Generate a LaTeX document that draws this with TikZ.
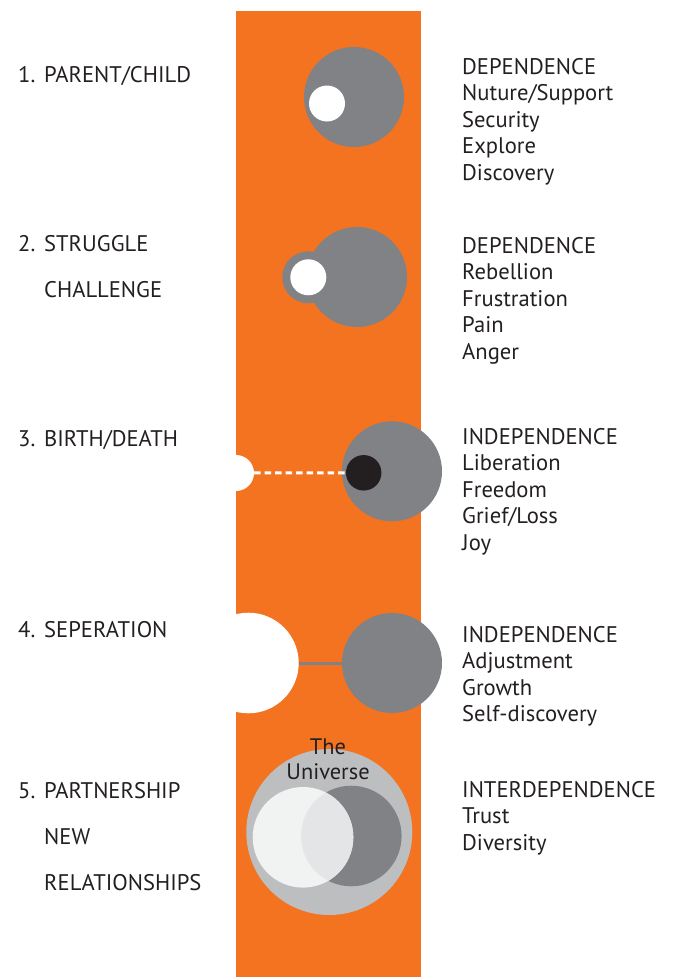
\documentclass[tikz,border=0pt]{standalone}
\usepackage{fontspec}
\setmainfont{PT Sans}
\usepackage{tikz}
\definecolor{band}{HTML}{F37321}
\definecolor{discgray}{HTML}{808285}
\definecolor{palegray}{HTML}{BCBEC0}
\definecolor{softwhite}{HTML}{F1F2F2}
\definecolor{mixgray}{HTML}{E4E5E6}
\definecolor{ink}{HTML}{231F20}
\tikzstyle{disc}=[circle,inner sep=0pt,outer sep=0pt]
\tikzstyle{sidetext}=[anchor=base west,inner sep=0pt,text=ink,font=\fontsize{22.6}{26}\selectfont]
\tikzstyle{midtext}=[anchor=base,inner sep=0pt,text=ink,font=\fontsize{22.4}{26}\selectfont]

\begin{document}
\begin{tikzpicture}[x=1pt,y=-1pt]
    \useasboundingbox (0,0) rectangle (676,977);
    % the orange band
    \fill[band] (236,11) rectangle (421,977);

    % 1. parent/child
    \node[disc,fill=discgray,minimum size=100pt] (g1) at (354,97) {};
    \node[disc,fill=white,minimum size=36pt] (w1) at (327,103.5) {};

    % 2. struggle
    \node[disc,fill=discgray,minimum size=100pt] (g2) at (357,277) {};
    \node[disc,fill=discgray,minimum size=52pt] (ring2) at (308.3,277.3) {};
    \node[disc,fill=white,minimum size=36pt] (w2) at (308.3,277.3) {};

    % 3. birth/death
    \node[disc,fill=discgray,minimum size=100pt] (g3) at (392,471.3) {};
    \node[disc,fill=ink,minimum size=35.5pt] (k3) at (363.7,472.8) {};
    \node[disc,fill=white,minimum size=36pt] (w3) at (236,473) {};
    \draw[white,line width=3pt,dash pattern=on 6.5pt off 4pt] (w3) -- (k3);

    % 4. seperation
    \node[disc,fill=discgray,minimum size=100pt] (g4) at (392,663) {};
    \node[disc,fill=white,minimum size=100.6pt] (w4) at (248.4,663) {};
    \draw[discgray,line width=3pt] (w4) -- (g4);

    % 5. partnership
    \node[disc,fill=palegray,minimum size=166pt] (u5) at (329.3,832) {};
    \node[disc,fill=discgray,minimum size=100.6pt] (d5) at (351.3,836) {};
    \node[disc,fill=softwhite,minimum size=100.6pt] (l5) at (303,837.3) {};
    \begin{scope}
        \clip (d5) circle[radius=50.3pt];
        \fill[mixgray] (l5) circle[radius=50.3pt];
    \end{scope}
    \node[midtext] (the) at (328,754.3) {The};
    \node[midtext] (univ) at (328,779) {Universe};

    % left column
    \foreach \y/\num in {82/1., 251/2., 446/3., 637.7/4., 798.3/5.}
        \node[sidetext] (n\num) at (18,\y) {\num};
    \foreach \y/\txt [count=\i] in {82/{PARENT/CHILD}, 251/STRUGGLE, 297.3/CHALLENGE, 446/{BIRTH/DEATH}, 637.7/SEPERATION, 798.3/PARTNERSHIP, 844/NEW, 890/RELATIONSHIPS}
        \node[sidetext] (l\i) at (44,\y) {\txt};

    % right column
    \foreach \y/\txt [count=\i] in {74.3/DEPENDENCE, 100.8/{Nuture/Support}, 127.3/Security, 153.8/Explore, 180.3/Discovery,
        253/DEPENDENCE, 279.5/Rebellion, 306/Frustration, 332.5/Pain, 359/Anger,
        444/INDEPENDENCE, 470.5/Liberation, 497/Freedom, 523.5/{Grief/Loss}, 550/Joy,
        642/INDEPENDENCE, 668.5/Adjustment, 695/Growth, 721.5/Self-discovery,
        797.3/INTERDEPENDENCE, 823.8/Trust, 850.3/Diversity}
        \node[sidetext] (r\i) at (462,\y) {\txt};
\end{tikzpicture}
\end{document}
